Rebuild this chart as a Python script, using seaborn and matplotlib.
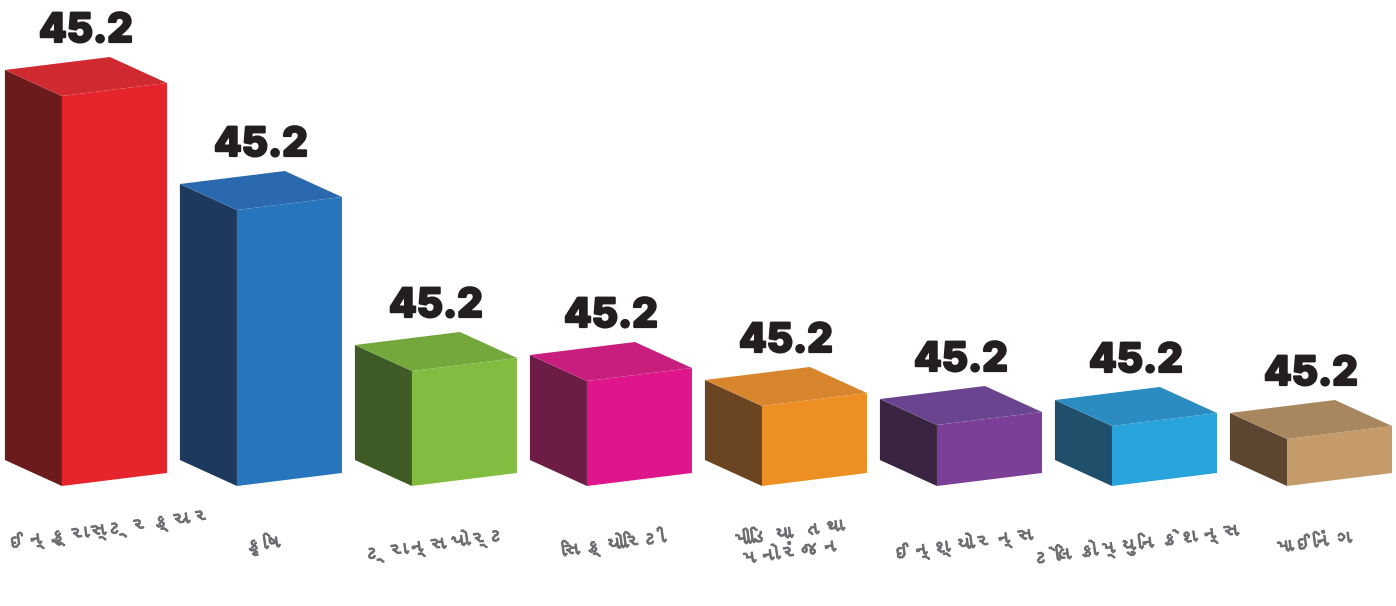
import numpy as np
import pandas as pd
import matplotlib
matplotlib.use("Agg")
import matplotlib.pyplot as plt
import matplotlib.patheffects as pe
import seaborn as sns
from matplotlib import font_manager
from matplotlib.ft2font import FT2Font
from matplotlib.transforms import Affine2D

# sector names (Gujarati) and bar heights
sectors = ["ઈન્ફ્રાસ્ટ્રક્ચર", "કૃષિ", "ટ્રાન્સપોર્ટ", "સિક્યોરિટી",
           "મીડિયા તથા\nમનોરંજન", "ઈન્શ્યોરન્સ", "ટેલિકોમ્યુનિકેશન્સ", "માઈનિંગ"]
heights = [390, 276, 115, 105, 80, 61, 60, 47]
value_labels = ["45.2", "45.2", "45.2", "45.2", "45.2", "45.2", "45.2", "45.2"]

front_colors = ["#e5242b", "#2775bd", "#82bd42", "#df168b",
                "#ee8f23", "#7b3f97", "#29a3dc", "#c49b69"]
top_colors = ["#cf2a2f", "#2a69ad", "#74a83c", "#c81f7e",
              "#d8862e", "#6b4490", "#2a8cc1", "#a8875f"]
side_colors = ["#6c1b1d", "#1d3a5e", "#3f5b25", "#6c1c45",
               "#6b4521", "#392541", "#1f4f6a", "#5c4631"]


def gujarati_font():
    # matplotlib has no fallback for Gujarati, look for any font that has it
    for f in font_manager.fontManager.ttflist:
        try:
            if 0x0A95 in FT2Font(f.fname).get_charmap():
                return f.name
        except Exception:
            pass
    return "DejaVu Sans"


sns.set_theme(style="white")
plt.rcParams["font.family"] = ["DejaVu Sans"]
label_font = gujarati_font()

df = pd.DataFrame({"sector": sectors, "height": heights})

fig = plt.figure(figsize=(13.96, 6.06), dpi=100)
ax = fig.add_axes([0, 0, 1, 1])

bar_w = 0.6
sns.barplot(data=df, x="sector", y="height", hue="sector", palette=front_colors,
            width=bar_w, legend=False, ax=ax, linewidth=0, saturation=1)

# fake 3d: depth offset (x in category units, y in data units) and a small tilt
dx, dy = -0.326, 26
tilt = 13

for i, patch in enumerate(ax.patches[:len(sectors)]):
    x0 = patch.get_x()
    x1 = x0 + patch.get_width()
    h = patch.get_height()
    shear = Affine2D(np.array([[1, 0, 0], [tilt / bar_w, 1, -tilt / bar_w * x0], [0, 0, 1]]))
    patch.set_transform(shear + ax.transData)

    # left side face
    ax.fill([x0, x0, x0 + dx, x0 + dx], [0, h, h + dy, dy],
            color=side_colors[i], lw=0, zorder=1)
    # top face
    ax.fill([x0, x1, x1 + dx, x0 + dx], [h, h + tilt, h + tilt + dy, h + dy],
            color=top_colors[i], lw=0, zorder=3)

    xc = x0 + (bar_w + dx) / 2
    ax.text(xc, h + tilt + dy + 15, value_labels[i], ha="center", va="baseline",
            fontsize=29, fontweight="heavy", family=["Inter", "DejaVu Sans"],
            color="#231f20",
            path_effects=[pe.withStroke(linewidth=1.6, foreground="#231f20")])

    # first name is long, keep it inside the left edge
    if i == 0:
        lx, lha = x0 + dx + 0.01, "left"
    else:
        lx, lha = xc + 0.02, "center"
    ax.text(lx, -58, sectors[i], ha=lha, va="center", rotation=8,
            rotation_mode="anchor", fontsize=15, fontweight="bold",
            family=[label_font, "DejaVu Sans"], color="#6d6e71",
            linespacing=1.1,
            path_effects=[pe.withStroke(linewidth=0.8, foreground="#6d6e71")])

ax.set_xlim(-0.654, 7.323)
ax.set_ylim(-120, 486)
ax.set_xticks([])
ax.set_yticks([])
ax.set_xlabel("")
ax.set_ylabel("")
sns.despine(ax=ax, left=True, bottom=True)
ax.set_facecolor("white")

fig.savefig("out.png", dpi=100, facecolor="white")
